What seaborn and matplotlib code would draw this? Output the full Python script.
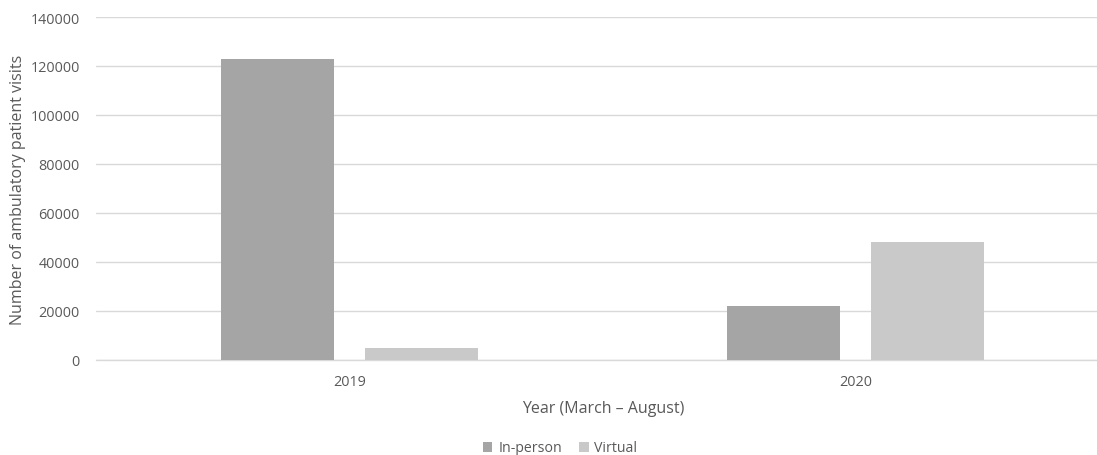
import matplotlib
matplotlib.use("Agg")
import matplotlib.pyplot as plt
import seaborn as sns
import pandas as pd
from matplotlib.patches import Patch

years = ["2019", "2020"]
visit_types = ["In-person", "Virtual"]
in_person = [122700, 21800]
virtual = [4900, 47900]
y_ticks = [0, 20000, 40000, 60000, 80000, 100000, 120000, 140000]

df = pd.DataFrame({
    "Year": years * 2,
    "Type": [visit_types[0]] * 2 + [visit_types[1]] * 2,
    "Visits": in_person + virtual,
})

sns.set_theme(style="white")
plt.rcParams["font.family"] = ["Open Sans", "DejaVu Sans"]
text_color = "#595959"
grid_color = "#d9d9d9"
palette = {"In-person": "#a5a5a5", "Virtual": "#c9c9c9"}

W, H = 1097, 456
left_px, bottom_px, top_px = 96.5, 360.7, 18
fig = plt.figure(figsize=(W / 100, H / 100), dpi=100)
ax = fig.add_axes([left_px / W, 1 - bottom_px / H,
                   1 - left_px / W, (bottom_px - top_px) / H])

sns.barplot(data=df, x="Year", y="Visits", hue="Type", order=years,
            hue_order=visit_types, palette=palette, width=0.569, gap=0.215,
            saturation=1, legend=False, ax=ax, zorder=3, edgecolor="none")

# each category slot is 506 px wide; the plot area is cut at the right edge
ax.set_xlim(-0.5, -0.5 + (W - left_px) / 506)
ax.set_ylim(0, 140000)
ax.set_yticks(y_ticks)
ax.set_yticklabels([str(v) for v in y_ticks])
ax.yaxis.grid(True, color=grid_color, linewidth=1, zorder=0)
ax.axhline(0, color=grid_color, linewidth=1, clip_on=False, zorder=2)
ax.set_axisbelow(True)
for s in ax.spines.values():
    s.set_visible(False)
ax.tick_params(axis="both", length=0, labelsize=10.4, labelcolor=text_color)
ax.tick_params(axis="y", pad=12)
ax.tick_params(axis="x", pad=10)

ax.set_xlabel("Year (March \u2013 August)", fontsize=11.5, color=text_color)
ax.set_ylabel("Number of ambulatory patient visits", fontsize=11.5, color=text_color)

# axis titles positioned in axes-fraction coordinates
ax.xaxis.set_label_coords((603 - left_px) / (W - left_px),
                          -(409 - bottom_px) / (bottom_px - top_px))
ax.xaxis.label.set_va("center")
ax.yaxis.set_label_coords(-(left_px - 18) / (W - left_px),
                          (bottom_px - 190) / (bottom_px - top_px))
ax.yaxis.label.set_va("center")

handles = [Patch(facecolor=palette[t], edgecolor="none", label=t) for t in visit_types]
fig.legend(handles=handles, loc="center", bbox_to_anchor=(560 / W, 1 - 449 / H),
           ncol=2, frameon=False, fontsize=10.2, labelcolor=text_color,
           handlelength=0.7, handleheight=0.7, handletextpad=0.4, columnspacing=1.2)

fig.savefig("out.png", dpi=100)
